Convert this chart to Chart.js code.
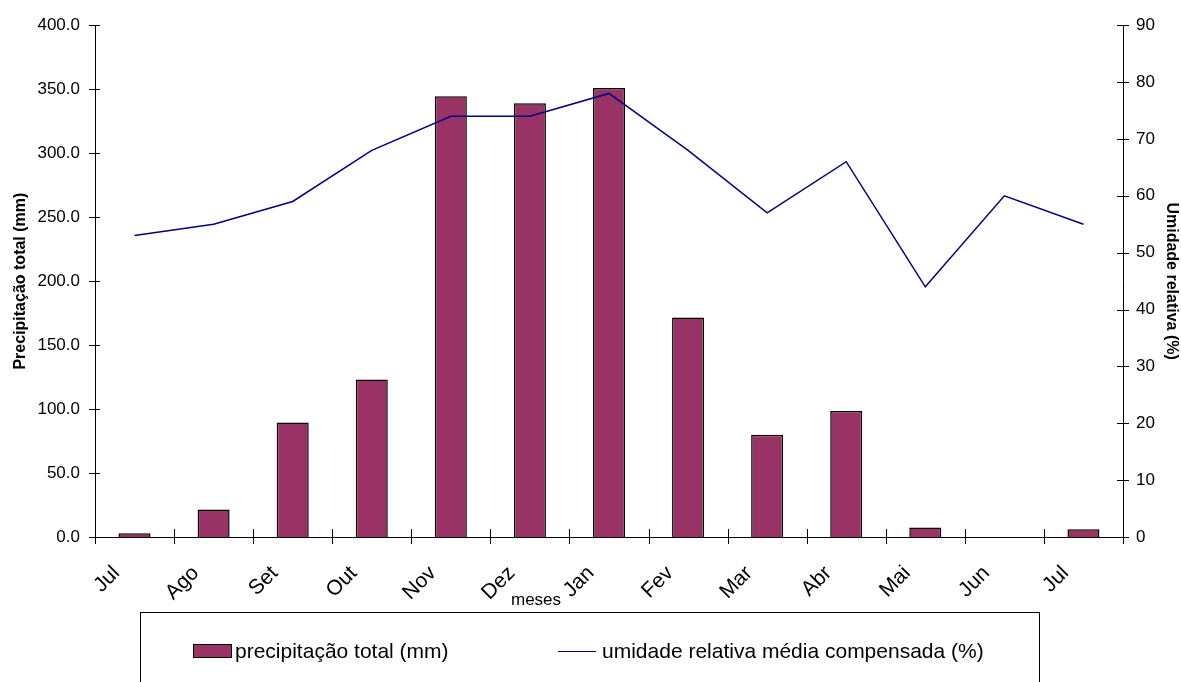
<!DOCTYPE html>
<html>
<head>
<meta charset="utf-8">
<script src="https://cdn.jsdelivr.net/npm/chart.js@4"></script>
<style>
  body { margin: 0; background: #fff; font-family: "Liberation Sans", Arial, sans-serif; }
  #wrap { position: relative; width: 1181px; height: 682px; overflow: hidden; }
  #chart { position: absolute; left: 0; top: 0; }
  #xtitle { position: absolute; left: 511px; top: 590px; font-size: 17px; color: #000; }
  #legend { position: absolute; left: 140px; top: 612px; width: 900px; height: 90px;
            border: 1px solid #000; box-sizing: border-box; }
  .item { position: absolute; top: 26px; font-size: 21px; color: #000; white-space: nowrap; }
  .swatch-bar { display: inline-block; width: 37px; height: 12px; background: #993366;
                border: 1px solid #000; vertical-align: 0px; margin-right: 3px; }
  .swatch-line { display: inline-block; width: 38px; height: 0; border-top: 1.5px solid #000080;
                 vertical-align: 6px; margin-right: 6px; }
</style>
</head>
<body>
<div id="wrap">
  <canvas id="chart" width="1181" height="682"></canvas>
  <div id="xtitle">meses</div>
  <div id="legend">
    <div class="item" style="left:52px"><span class="swatch-bar"></span>precipitação total (mm)</div>
    <div class="item" style="left:417px"><span class="swatch-line"></span>umidade relativa média compensada (%)</div>
  </div>
</div>
<script>
const months = ['Jul', 'Ago', 'Set', 'Out', 'Nov', 'Dez', 'Jan', 'Fev', 'Mar', 'Abr', 'Mai', 'Jun', 'Jul'];
const precipitation = [3.0, 21.5, 89.5, 123.0, 344.5, 339.0, 351.0, 171.5, 80.0, 98.5, 7.5, 0.0, 6.0];
const humidity = [53, 55, 59, 68, 74, 74, 78, 68, 57, 66, 44, 60, 55];

const FONT = '"Liberation Sans", Arial, sans-serif';

// short tick marks crossing each axis line
const crossTicks = {
  id: 'crossTicks',
  afterDraw(chart) {
    const ctx = chart.ctx;
    const area = chart.chartArea;
    const x = chart.scales.x;
    const yl = chart.scales.y;
    const yr = chart.scales.y1;
    ctx.save();
    ctx.strokeStyle = '#000';
    ctx.lineWidth = 1;
    ctx.beginPath();
    yl.ticks.forEach(function (t, i) {
      const py = Math.round(yl.getPixelForTick(i)) + 0.5;
      ctx.moveTo(area.left - 6, py);
      ctx.lineTo(area.left + 5, py);
    });
    yr.ticks.forEach(function (t, i) {
      const py = Math.round(yr.getPixelForTick(i)) + 0.5;
      ctx.moveTo(area.right - 6, py);
      ctx.lineTo(area.right + 6, py);
    });
    const half = (x.getPixelForValue(1) - x.getPixelForValue(0)) / 2;
    for (let i = 0; i <= months.length; i++) {
      const px = Math.round(x.getPixelForValue(i) - half) + 0.5;
      ctx.moveTo(px, area.bottom - 8);
      ctx.lineTo(px, area.bottom + 7);
    }
    ctx.stroke();
    ctx.restore();
  }
};

new Chart(document.getElementById('chart'), {
  data: {
    labels: months,
    datasets: [
      {
        type: 'line',
        label: 'umidade relativa média compensada (%)',
        data: humidity,
        yAxisID: 'y1',
        borderColor: '#000080',
        borderWidth: 1.5,
        pointRadius: 0,
        tension: 0,
        order: 0,
      },
      {
        type: 'bar',
        label: 'precipitação total (mm)',
        data: precipitation,
        yAxisID: 'y',
        backgroundColor: '#993366',
        borderColor: '#000',
        borderWidth: 1.5,
        categoryPercentage: 1,
        barPercentage: 0.405,
        order: 1,
      },
    ],
  },
  options: {
    responsive: false,
    animation: false,
    layout: { padding: { top: 23, left: 0, right: 0, bottom: 0 } },
    plugins: { legend: { display: false }, tooltip: { enabled: false } },
    scales: {
      x: {
        grid: { display: false, drawTicks: false },
        border: { display: true, color: '#000', width: 1 },
        ticks: {
          color: '#000',
          font: { family: FONT, size: 21 },
          minRotation: 45,
          maxRotation: 45,
          padding: 24,
          labelOffset: -18,
        },
        afterFit(scale) {
          scale.height = 145;
          scale.paddingLeft = 0;
          scale.paddingRight = 0;
        },
      },
      y: {
        position: 'left',
        min: 0,
        max: 400,
        grid: { display: false, drawTicks: false },
        border: { display: true, color: '#000', width: 1 },
        ticks: {
          stepSize: 50,
          color: '#000',
          padding: 15,
          font: { family: FONT, size: 17 },
          callback: function (v) { return v.toFixed(1); },
        },
        title: {
          display: true,
          text: 'Precipitação total (mm)',
          color: '#000',
          padding: { top: 11, bottom: 0 },
          font: { family: FONT, size: 16, weight: 'bold' },
        },
        afterFit(scale) { scale.width = 95; },
      },
      y1: {
        position: 'right',
        min: 0,
        max: 90,
        grid: { display: false, drawTicks: false },
        border: { display: true, color: '#000', width: 1 },
        ticks: {
          stepSize: 10,
          color: '#000',
          padding: 13,
          font: { family: FONT, size: 17 },
        },
        title: {
          display: true,
          text: 'Umidade relativa (%)',
          color: '#000',
          padding: { top: 0, bottom: 0 },
          font: { family: FONT, size: 16, weight: 'bold' },
        },
        afterFit(scale) { scale.width = 58; },
      },
    },
  },
  plugins: [crossTicks],
});
</script>
</body>
</html>
